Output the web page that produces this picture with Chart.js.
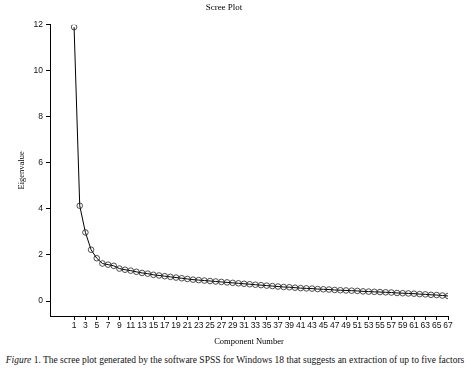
<!DOCTYPE html>
<html>
<head>
<meta charset="utf-8">
<script src="https://cdn.jsdelivr.net/npm/chart.js@4.4.1/dist/chart.umd.min.js"></script>
<style>
  body { margin: 0; background: #fff; }
  #wrap { position: absolute; left: 0; top: 0; width: 470px; height: 350px; }
  #caption {
    position: absolute; left: 0; top: 355px; width: 470px;
    text-align: center; white-space: nowrap;
    font-family: "Liberation Serif", serif; font-size: 9.5px; color: #111;
  }
</style>
</head>
<body>
<div id="wrap"><canvas id="screeChart"></canvas></div>
<div id="caption"><i>Figure</i> 1. The scree plot generated by the software SPSS for Windows 18 that suggests an extraction of up to five factors</div>
<script>
// component numbers 1..67
const components = [
    1, 2, 3, 4, 5, 6, 7, 8, 9, 10, 11, 12, 13, 14, 15, 16, 17, 18, 19, 20,
    21, 22, 23, 24, 25, 26, 27, 28, 29, 30, 31, 32, 33, 34, 35, 36, 37, 38, 39, 40,
    41, 42, 43, 44, 45, 46, 47, 48, 49, 50, 51, 52, 53, 54, 55, 56, 57, 58, 59, 60,
    61, 62, 63, 64, 65, 66, 67
];
const eigenvalues = [
    11.9, 4.14, 2.98, 2.23, 1.86, 1.63, 1.58, 1.53, 1.41, 1.36,
    1.32, 1.27, 1.22, 1.19, 1.14, 1.11, 1.08, 1.05, 1.02, 0.99,
    0.96, 0.93, 0.91, 0.89, 0.87, 0.85, 0.83, 0.81, 0.79, 0.77,
    0.75, 0.73, 0.71, 0.69, 0.67, 0.65, 0.63, 0.61, 0.60, 0.58,
    0.56, 0.55, 0.54, 0.52, 0.51, 0.50, 0.48, 0.47, 0.46, 0.45,
    0.44, 0.42, 0.41, 0.40, 0.39, 0.38, 0.37, 0.35, 0.34, 0.33,
    0.32, 0.30, 0.29, 0.27, 0.26, 0.24, 0.22
];
const xTickLabels = [
    1, 3, 5, 7, 9, 11, 13, 15, 17, 19, 21, 23, 25, 27, 29, 31, 33,
    35, 37, 39, 41, 43, 45, 47, 49, 51, 53, 55, 57, 59, 61, 63, 65, 67
];
const yTickLabels = [0, 2, 4, 6, 8, 10, 12];

var points = components.map(function(c, i) {
    return { x: c, y: eigenvalues[i] };
});

var serif = '"Liberation Serif", serif';
var sans = '"Liberation Sans", sans-serif';

var screeChart = new Chart(document.getElementById('screeChart').getContext('2d'), {
    type: 'line',
    data: {
        datasets: [{
            label: 'Eigenvalue',
            data: points,
            borderColor: '#000',
            borderWidth: 1,
            tension: 0,
            pointRadius: 2.8,
            pointBorderWidth: 0.8,
            pointBorderColor: '#222',
            pointBackgroundColor: 'rgba(0,0,0,0)'
        }]
    },
    options: {
        responsive: true,
        maintainAspectRatio: false,
        animation: false,
        layout: { padding: { left: 0, right: 22, top: 0, bottom: 0 } },
        scales: {
            x: {
                type: 'linear',
                min: -3.25,
                max: 67,
                afterBuildTicks: function(scale) {
                    scale.ticks = xTickLabels.map(function(v) { return { value: v }; });
                },
                afterFit: function(scale) { scale.height = 34; },
                ticks: {
                    autoSkip: false,
                    maxRotation: 0,
                    padding: 1,
                    color: '#111',
                    font: { family: sans, size: 8.5 }
                },
                grid: { drawOnChartArea: false, drawTicks: true, tickLength: 4, color: '#000' },
                border: { display: true, color: '#000', width: 1 },
                title: {
                    display: true,
                    text: 'Component Number',
                    color: '#000',
                    font: { family: serif, size: 8.5 },
                    padding: { top: 0, bottom: 3 }
                }
            },
            y: {
                min: -0.65,
                max: 12,
                afterBuildTicks: function(scale) {
                    scale.ticks = yTickLabels.map(function(v) { return { value: v }; });
                },
                afterFit: function(scale) { scale.width = 50; },
                ticks: {
                    padding: 3,
                    color: '#111',
                    font: { family: sans, size: 8.5 }
                },
                grid: { drawOnChartArea: false, drawTicks: true, tickLength: 4, color: '#000' },
                border: { display: true, color: '#000', width: 1 },
                title: {
                    display: true,
                    text: 'Eigenvalue',
                    color: '#000',
                    font: { family: serif, size: 8.5 },
                    padding: { top: 17, bottom: 0 }
                }
            }
        },
        plugins: {
            legend: { display: false },
            tooltip: { enabled: false },
            title: {
                display: true,
                text: 'Scree Plot',
                color: '#000',
                font: { family: serif, size: 9, weight: 'normal' },
                padding: { top: 2, bottom: 12 }
            }
        }
    }
});
</script>
</body>
</html>
